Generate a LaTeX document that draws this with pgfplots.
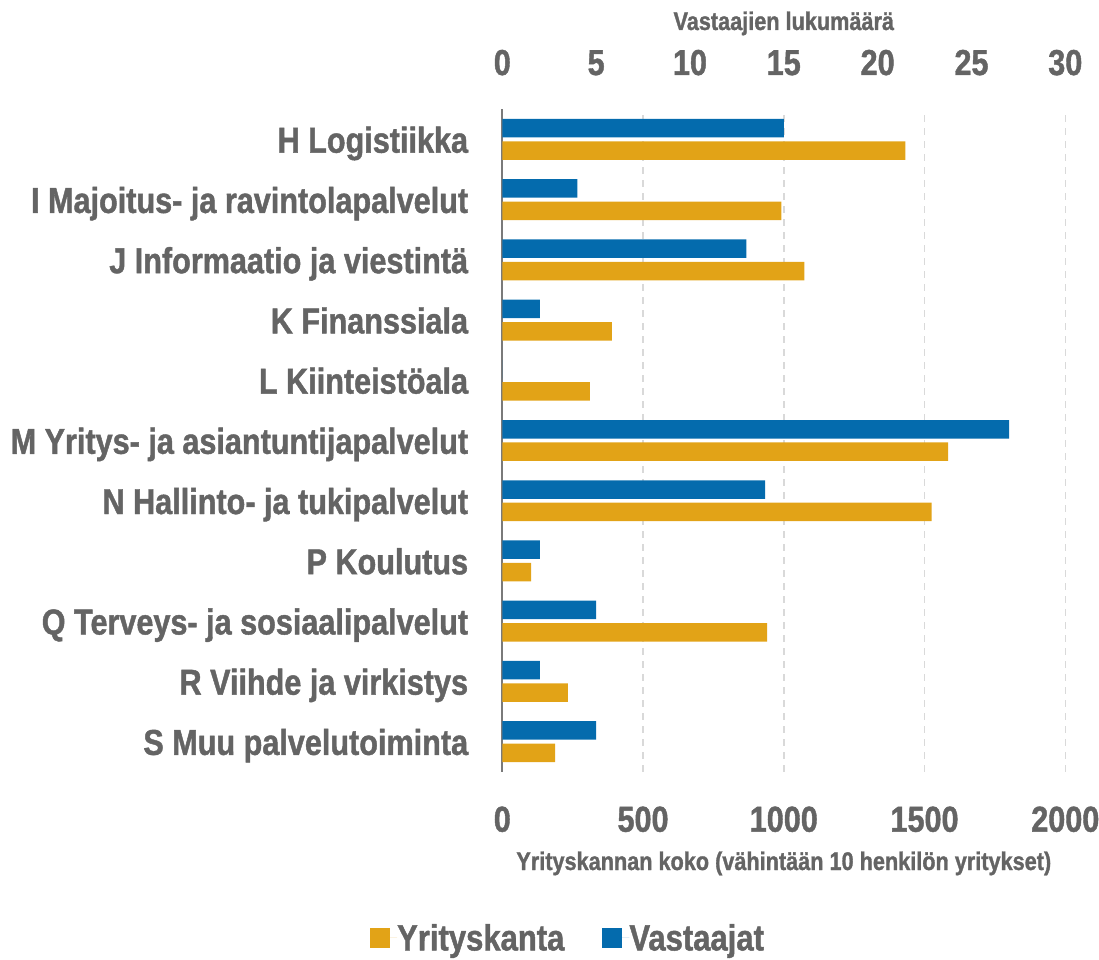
\documentclass[border=0pt]{standalone}
\usepackage{fontspec}
\setmainfont{Liberation Sans}[FakeStretch=0.85, BoldFeatures={FakeBold=1.2}]
\usepackage{pgfplots}
\pgfplotsset{compat=1.18}
\definecolor{cblue}{HTML}{046BAD}
\definecolor{corange}{HTML}{E2A317}
\definecolor{ctext}{HTML}{646464}
\definecolor{cgrid}{HTML}{D9D9D9}
\definecolor{caxis}{HTML}{7A7A7A}
\newcommand{\bigf}{\fontsize{36}{43}\selectfont\bfseries}
\newcommand{\midf}{\fontsize{25.5}{30}\selectfont\bfseries}
\begin{document}
\begin{tikzpicture}
\useasboundingbox (-502.3pt,-187.3pt) rectangle (596.7pt,771.7pt);
\begin{axis}[
  at={(0pt,0pt)}, anchor=south west, scale only axis,
  width=563pt, height=662.4pt,
  xmin=0, xmax=2000, ymin=-0.5, ymax=10.5,
  axis x line*=bottom, axis y line*=left,
  x axis line style={draw=none},
  y axis line style={draw=caxis, line width=2pt},
  xtick={0,500,1000,1500,2000},
  ytick={0,1,2,3,4,5,6,7,8,9,10},
  yticklabels={S Muu palvelutoiminta, R Viihde ja virkistys, Q Terveys- ja sosiaalipalvelut, P Koulutus, N Hallinto- ja tukipalvelut, M Yritys- ja asiantuntijapalvelut, L Kiinteistöala, K Finanssiala, J Informaatio ja viestintä, I Majoitus- ja ravintolapalvelut, H Logistiikka},
  major tick length=0pt,
  xmajorgrids,
  grid style={draw=cgrid, line width=1.5pt, dash pattern=on 7pt off 6pt},
  /pgf/number format/assume math mode=true,
  /pgf/number format/1000 sep={},
  xticklabel style={font=\bigf, text=ctext, anchor=base, yshift=-60pt, inner sep=0pt},
  yticklabel style={font=\bigf, text=ctext, anchor=base east, xshift=-34pt, yshift=-13.3pt, inner sep=0pt},
  xlabel={Yrityskannan koko (vähintään 10 henkilön yritykset)},
  xlabel style={font=\midf, text=ctext, at={(axis description cs:0.5,0)}, anchor=base, yshift=-98.3pt, inner sep=0pt},
]
\addplot[xbar, bar width=0.307, bar shift=-0.186, fill=corange, draw=none] coordinates {
  (1432,10) (991,9) (1073,8) (389,7) (311,6) (1584,5) (1525,4) (102,3) (941,2) (233,1) (188,0)
};
\end{axis}
\begin{axis}[
  at={(0pt,0pt)}, anchor=south west, scale only axis,
  width=563pt, height=662.4pt,
  xmin=0, xmax=30, ymin=-0.5, ymax=10.5,
  axis x line*=top, hide y axis,
  x axis line style={draw=none},
  xtick={0,5,10,15,20,25,30},
  major tick length=0pt,
  /pgf/number format/assume math mode=true,
  xticklabel style={font=\bigf, text=ctext, anchor=base, yshift=34.3pt, inner sep=0pt},
  xlabel={Vastaajien lukumäärä},
  xlabel style={font=\midf, text=ctext, at={(axis description cs:0.5,1)}, anchor=base, yshift=79.3pt, inner sep=0pt},
  legend columns=2,
  legend image code/.code={\fill[#1] (0pt,-10pt) rectangle (20pt,10pt); \path (0pt,0pt) -- (27pt,0pt);},
  legend style={draw=none, fill=none, font=\fontsize{36.5}{43}\selectfont\bfseries, text=ctext,
    at={(0.115,-0.251)}, anchor=center,
    nodes={inner sep=0pt},
    /tikz/every even column/.append style={column sep=38pt}},
]
\addlegendimage{fill=corange, draw=none}
\addlegendentry{Yrityskanta}
\addplot[xbar, bar width=0.307, bar shift=0.186, fill=cblue, draw=none] coordinates {
  (15,10) (4,9) (13,8) (2,7) (0,6) (27,5) (14,4) (2,3) (5,2) (2,1) (5,0)
};
\addlegendentry{Vastaajat}
\end{axis}
\end{tikzpicture}
\end{document}
